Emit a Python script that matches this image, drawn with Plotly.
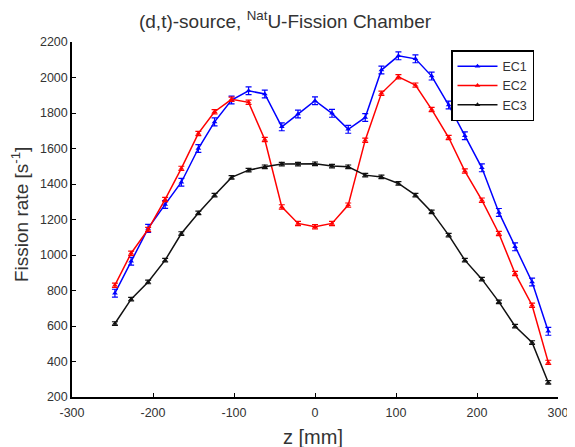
import plotly.graph_objects as go

z_mm = [-247, -227, -206, -185, -165, -144, -124, -103, -82, -62, -41, -21, 0,
        21, 41, 62, 82, 103, 124, 144, 165, 185, 206, 227, 247, 268, 288]

ec1 = [785, 965, 1150, 1285, 1410, 1600, 1750, 1873, 1925, 1907, 1722, 1794, 1869,
       1798, 1708, 1775, 2042, 2122, 2105, 2008, 1845, 1672, 1491, 1240, 1046, 848, 570]
ec2 = [830, 1010, 1144, 1313, 1488, 1685, 1807, 1877, 1860, 1651, 1271, 1178, 1159,
       1178, 1281, 1647, 1911, 2004, 1957, 1820, 1662, 1473, 1309, 1121, 896, 717, 395]
ec3 = [614, 751, 848, 971, 1121, 1237, 1337, 1437, 1478, 1497, 1512, 1512, 1514,
       1501, 1497, 1450, 1440, 1403, 1337, 1243, 1112, 971, 864, 736, 599, 507, 282]

x_ticks = [-300, -200, -100, 0, 100, 200, 300]
x_tick_labels = ["-300", "-200", "-100", "0", "100", "200", "300"]
y_ticks = [200, 400, 600, 800, 1000, 1200, 1400, 1600, 1800, 2000, 2200]

err1 = 22
err2 = 12
err3 = 10

series = [("EC1", ec1, "#0000ff", err1), ("EC2", ec2, "#ff0000", err2), ("EC3", ec3, "#111111", err3)]

fig = go.Figure()
for name, vals, col, err in series:
    fig.add_trace(go.Scatter(
        x=z_mm, y=vals, name=name, mode="lines+markers",
        line=dict(color=col, width=1.5),
        marker=dict(symbol="triangle-up", size=5, color=col),
        error_y=dict(type="constant", value=err, color=col, thickness=1.2, width=3),
    ))

# page body adds an 8px offset at top/left; figure sized/positioned to compensate
W, H = 567, 439
L, R, T, B = 64, 17, 34, 50
pw, ph = W - L - R, H - T - B

font = "Liberation Sans, Arial, sans-serif"
fig.update_layout(
    width=W, height=H,
    margin=dict(l=L, r=R, t=T, b=B),
    paper_bgcolor="white", plot_bgcolor="white",
    font=dict(family=font, color="#333", size=12),
    title=dict(text="(d,t)-source, <sup>Nat</sup>U-Fission Chamber",
               x=277 / W, xanchor="center", y=1 - 13 / H, yanchor="middle",
               font=dict(size=19, color="#333", family=font)),
    xaxis=dict(range=[-300, 300], tickvals=x_ticks, ticktext=x_tick_labels,
               ticks="inside", ticklen=4, tickcolor="black", tickwidth=1.2,
               showline=True, linecolor="black", linewidth=1.5, showgrid=False,
               zeroline=False, automargin=False, ticklabelstandoff=3,
               tickfont=dict(size=12.5, color="#333")),
    yaxis=dict(range=[200, 2200], tickvals=y_ticks,
               ticks="inside", ticklen=4, tickcolor="black", tickwidth=1.2,
               showline=True, linecolor="black", linewidth=1.5, showgrid=False,
               zeroline=False, automargin=False,
               tickfont=dict(size=12.5, color="#333")),
    legend=dict(x=(443 - L) / pw, y=1 - (42 - T) / ph, xanchor="left", yanchor="top",
                bgcolor="white", bordercolor="black", borderwidth=1.5,
                font=dict(size=12.5, color="#333"), tracegroupgap=2,
                entrywidth=66, itemwidth=40),
    showlegend=True,
    annotations=[
        dict(text="z [mm]", xref="paper", yref="paper",
             x=(305 - L) / pw, y=-(429 - (H - B)) / ph,
             xanchor="center", yanchor="middle", showarrow=False,
             font=dict(size=20, color="#333")),
        dict(text="Fission rate [s<sup>-1</sup>]", xref="paper", yref="paper",
             x=-(L - 12) / pw, y=((H - B) - 207) / ph, textangle=-90,
             xanchor="center", yanchor="middle", showarrow=False,
             font=dict(size=19, color="#333")),
    ],
)

fig.write_html("out.html")
